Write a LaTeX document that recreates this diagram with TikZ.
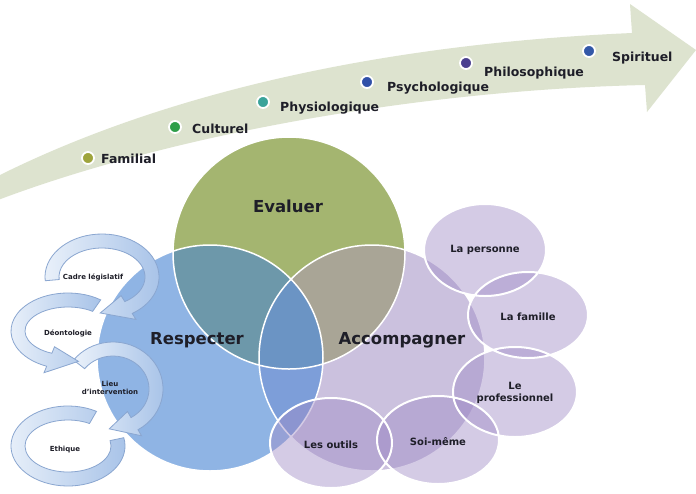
\documentclass[tikz,border=0pt]{standalone}
\usepackage{fontspec}
\setmainfont{DejaVu Sans}
\usetikzlibrary{calc}
\definecolor{bandfill}{HTML}{DDE3CF}
\definecolor{txt}{HTML}{1E1E28}
\definecolor{Ecol}{HTML}{A4B570}
\definecolor{Rcol}{HTML}{8FB4E4}
\definecolor{Acol}{HTML}{CBC1DE}
\definecolor{ERcol}{HTML}{6D98AA}
\definecolor{EAcol}{HTML}{A9A596}
\definecolor{RAcol}{HTML}{7D9ED9}
\definecolor{ERAcol}{HTML}{6B94C4}
\definecolor{smallfill}{HTML}{A08CC6}
\definecolor{arrline}{HTML}{8AA6D0}
\definecolor{arrL}{HTML}{EAF1FA}
\definecolor{arrR}{HTML}{A8C3E8}
\definecolor{dotA}{HTML}{9EA43C}
\definecolor{dotB}{HTML}{2E9E48}
\definecolor{dotC}{HTML}{3AA39A}
\definecolor{dotD}{HTML}{3050A8}
\definecolor{dotE}{HTML}{4A3F8F}
\definecolor{dotF}{HTML}{3358A8}
\tikzset{
 toplbl/.style={font=\bfseries\fontsize{12.5}{14}\selectfont, text=txt, inner sep=0, anchor=west},
 biglbl/.style={font=\bfseries\fontsize{16.5}{19}\selectfont, inner sep=0},
 smlbl/.style={font=\bfseries\fontsize{10}{12}\selectfont, text=txt, align=center, inner sep=0},
 arlbl/.style={font=\bfseries\fontsize{7}{8.5}\selectfont, text=txt, align=center, inner sep=0},
 dotsty/.style={circle, draw=white, line width=1.8pt, minimum size=12pt, inner sep=0},
 arrowsty/.style={draw=arrline, line width=0.8pt, left color=arrL, right color=arrR},
 smallell/.style={fill=smallfill, fill opacity=0.45},
}
\newcommand{\circarrow}[7]{%
\begin{scope}[shift={(#1,#2)}]
\path[arrowsty] (#5:{#3+7} and {#4+7}) arc[start angle=#5, end angle=#6, x radius={#3+7}, y radius={#4+7}]
 -- (#6:{#3+14} and {#4+14}) -- (#7:{#3} and {#4}) -- (#6:{#3-14} and {#4-14})
 -- (#6:{#3-7} and {#4-7}) arc[start angle=#6, end angle=#5, x radius={#3-7}, y radius={#4-7}] -- cycle;
\end{scope}}
\begin{document}
\begin{tikzpicture}[x=1pt,y=1pt]
\useasboundingbox (0,0) rectangle (696,-493);
\fill[white] (0,0) rectangle (696,-493);
% big curved arrow
\fill[bandfill] (-2,-176) .. controls (150,-100) and (360,-45) .. (632,-33) -- (630,-4) -- (696,-50) -- (647,-112) -- (645,-85) .. controls (420,-90) and (170,-135) .. (-2,-200) -- cycle;
% dots and labels
\node[dotsty, fill=dotA] (d1) at (88,-158) {};
\node[dotsty, fill=dotB] (d2) at (175,-127) {};
\node[dotsty, fill=dotC] (d3) at (263,-102) {};
\node[dotsty, fill=dotD] (d4) at (367,-82) {};
\node[dotsty, fill=dotE] (d5) at (466,-63) {};
\node[dotsty, fill=dotF] (d6) at (589,-51) {};
\node[toplbl] (t1) at (101,-159) {Familial};
\node[toplbl] (t2) at (192,-129) {Culturel};
\node[toplbl] (t3) at (280,-108) {Physiologique};
\node[toplbl] (t4) at (387,-88) {Psychologique};
\node[toplbl] (t5) at (484,-73) {Philosophique};
\node[toplbl] (t6) at (612,-58) {Spirituel};
% Venn
\coordinate (E) at (289,-253);
\coordinate (R) at (210,-358);
\coordinate (A) at (372,-358);
\fill[Ecol] (E) circle (116);
\fill[Rcol] (R) circle (113);
\fill[Acol] (A) circle (113);
\begin{scope}\clip (R) circle (113); \fill[RAcol] (A) circle (113);\end{scope}
\begin{scope}\clip (E) circle (116); \fill[ERcol] (R) circle (113); \fill[EAcol] (A) circle (113);
 \clip (R) circle (113); \fill[ERAcol] (A) circle (113);\end{scope}
\draw[white, line width=1.5pt] (E) circle (116) (R) circle (113) (A) circle (113);
% small ellipses
\fill[smallell] (485,-250) ellipse [x radius=61, y radius=46];
\fill[smallell] (528,-315) ellipse [x radius=60, y radius=43];
\fill[smallell] (515,-392) ellipse [x radius=62, y radius=45];
\fill[smallell] (438,-440) ellipse [x radius=61, y radius=44];
\fill[smallell] (331,-443) ellipse [x radius=61, y radius=45];
\draw[white, line width=2pt] (485,-250) ellipse [x radius=61, y radius=46]
 (528,-315) ellipse [x radius=60, y radius=43]
 (515,-392) ellipse [x radius=62, y radius=45]
 (438,-440) ellipse [x radius=61, y radius=44]
 (331,-443) ellipse [x radius=61, y radius=45];
\node[biglbl, text=txt] (ev) at (288,-206) {Evaluer};
\node[biglbl, text=txt] (re) at (197,-340) {Respecter};
\node[biglbl, text=txt] (ac) at (402,-340) {Accompagner};
\node[smlbl] (s1) at (485,-250) {La personne};
\node[smlbl] (s2) at (528,-317) {La famille};
\node[smlbl] (s3) at (515,-393) {Le\\professionnel};
\node[smlbl] (s4) at (438,-442) {Soi-même};
\node[smlbl] (s5) at (331,-445) {Les outils};
% circular arrows
\begin{scope}[shift={(68,-446)}]
\path[arrowsty] (60:57 and 40) arc[start angle=60, end angle=372, x radius=57, y radius=40]
 -- (372:43 and 26) arc[start angle=372, end angle=60, x radius=43, y radius=26] -- cycle;
\end{scope}
\circarrow{113}{-389}{43}{40}{142}{-60}{-95}
\circarrow{68}{-331}{50}{31}{55}{248}{282}
\circarrow{102}{-277}{50}{36}{185}{-58}{-92}
\node[arlbl] (c1) at (93,-277) {Cadre législatif};
\node[arlbl] (c2) at (68,-333) {Déontologie};
\node[arlbl] (c3) at (110,-388) {Lieu\\d'intervention};
\node[arlbl] (c4) at (65,-450) {Ethique};
\end{tikzpicture}
\end{document}
